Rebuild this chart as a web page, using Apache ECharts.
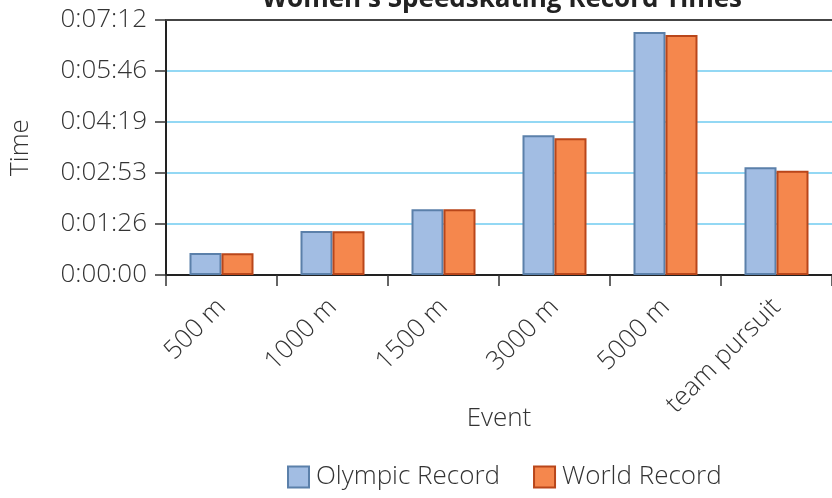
<!DOCTYPE html>
<html>
<head>
<meta charset="utf-8">
<title>Women's Speedskating Record Times</title>
<script src="https://cdn.jsdelivr.net/npm/echarts@6/dist/echarts.min.js"></script>
<style>
  html, body { margin: 0; padding: 0; background: #fff; }
  #chart { width: 832px; height: 498px; }
</style>
</head>
<body>
<div id="chart"></div>
<script>
// Events and record times (seconds)
const events = ['500 m', '1000 m', '1500 m', '3000 m', '5000 m', 'team pursuit'];
const olympicRecord = [37.3, 74.4, 111.5, 236.7, 411.7, 182.6];
const worldRecord = [37.0, 74.2, 111.5, 231.6, 406.7, 176.7];

// Time axis: 0 to 7:12 in steps of 1:26.4
const yTickLabels = ['0:00:00', '0:01:26', '0:02:53', '0:04:19', '0:05:46', '0:07:12'];
const yStep = 86.4;
const yMax = 432;

const FONT = 'Open Sans';
const TEXT = '#333333';
const FS = 26;

const chart = echarts.init(document.getElementById('chart'), null, { renderer: 'canvas' });

chart.setOption({
  animation: false,
  backgroundColor: '#ffffff',
  title: {
    text: "Women's Speedskating Record Times",
    left: 497,
    top: -18,
    textAlign: 'center',
    textStyle: { fontFamily: FONT, fontWeight: 'bold', fontSize: 26, color: '#222222' }
  },
  legend: {
    top: 459,
    left: 282,
    icon: 'rect',
    itemWidth: 21,
    itemHeight: 21,
    itemGap: 33,
    textStyle: { fontFamily: FONT, fontWeight: 300, fontSize: FS, color: TEXT, padding: [0, 0, 0, 2] },
    data: ['Olympic Record', 'World Record']
  },
  grid: {
    left: 166,
    top: 20,
    width: 671,
    height: 255,
    containLabel: false
  },
  xAxis: [
    {
      type: 'category',
      data: events,
      name: 'Event',
      nameLocation: 'middle',
      nameGap: 131,
      nameMoveOverlap: false,
      nameTextStyle: { fontFamily: FONT, fontWeight: 300, fontSize: FS, color: TEXT },
      axisLine: { lineStyle: { color: '#222222', width: 2 } },
      axisTick: { show: true, length: 11, lineStyle: { color: '#333333', width: 1.5 } },
      axisLabel: {
        rotate: 45,
        margin: 28,
        fontFamily: FONT,
        fontWeight: 300,
        fontSize: FS,
        color: TEXT,
        interval: 0
      },
      splitLine: { show: false }
    },
    {
      // top frame line of the plot
      type: 'category',
      data: events,
      position: 'top',
      axisLine: { show: true, lineStyle: { color: '#444444', width: 2 } },
      axisTick: { show: false },
      axisLabel: { show: false },
      splitLine: { show: false }
    }
  ],
  yAxis: {
    type: 'value',
    min: 0,
    max: yMax,
    interval: yStep,
    name: 'Time',
    nameLocation: 'middle',
    nameGap: 132,
    nameMoveOverlap: false,
    nameTextStyle: { fontFamily: FONT, fontWeight: 300, fontSize: FS, color: TEXT },
    axisLine: { show: true, lineStyle: { color: '#222222', width: 2 } },
    axisTick: { show: true, length: 11, lineStyle: { color: '#333333', width: 1.5 } },
    axisLabel: {
      margin: 19,
      fontFamily: FONT,
      fontWeight: 300,
      fontSize: FS,
      color: TEXT,
      formatter: function (v) {
        return yTickLabels[Math.round(v / yStep)];
      }
    },
    splitLine: { show: true, lineStyle: { color: '#6fcbf0', width: 1.5 } }
  },
  series: [
    {
      name: 'Olympic Record',
      type: 'bar',
      data: olympicRecord,
      barWidth: 32,
      barGap: '0%',
      itemStyle: { color: '#a2bde3', borderColor: '#5b80aa', borderWidth: 2 }
    },
    {
      name: 'World Record',
      type: 'bar',
      data: worldRecord,
      barWidth: 32,
      barGap: '0%',
      itemStyle: { color: '#f5874d', borderColor: '#b9461a', borderWidth: 2 }
    }
  ]
});
</script>
</body>
</html>
